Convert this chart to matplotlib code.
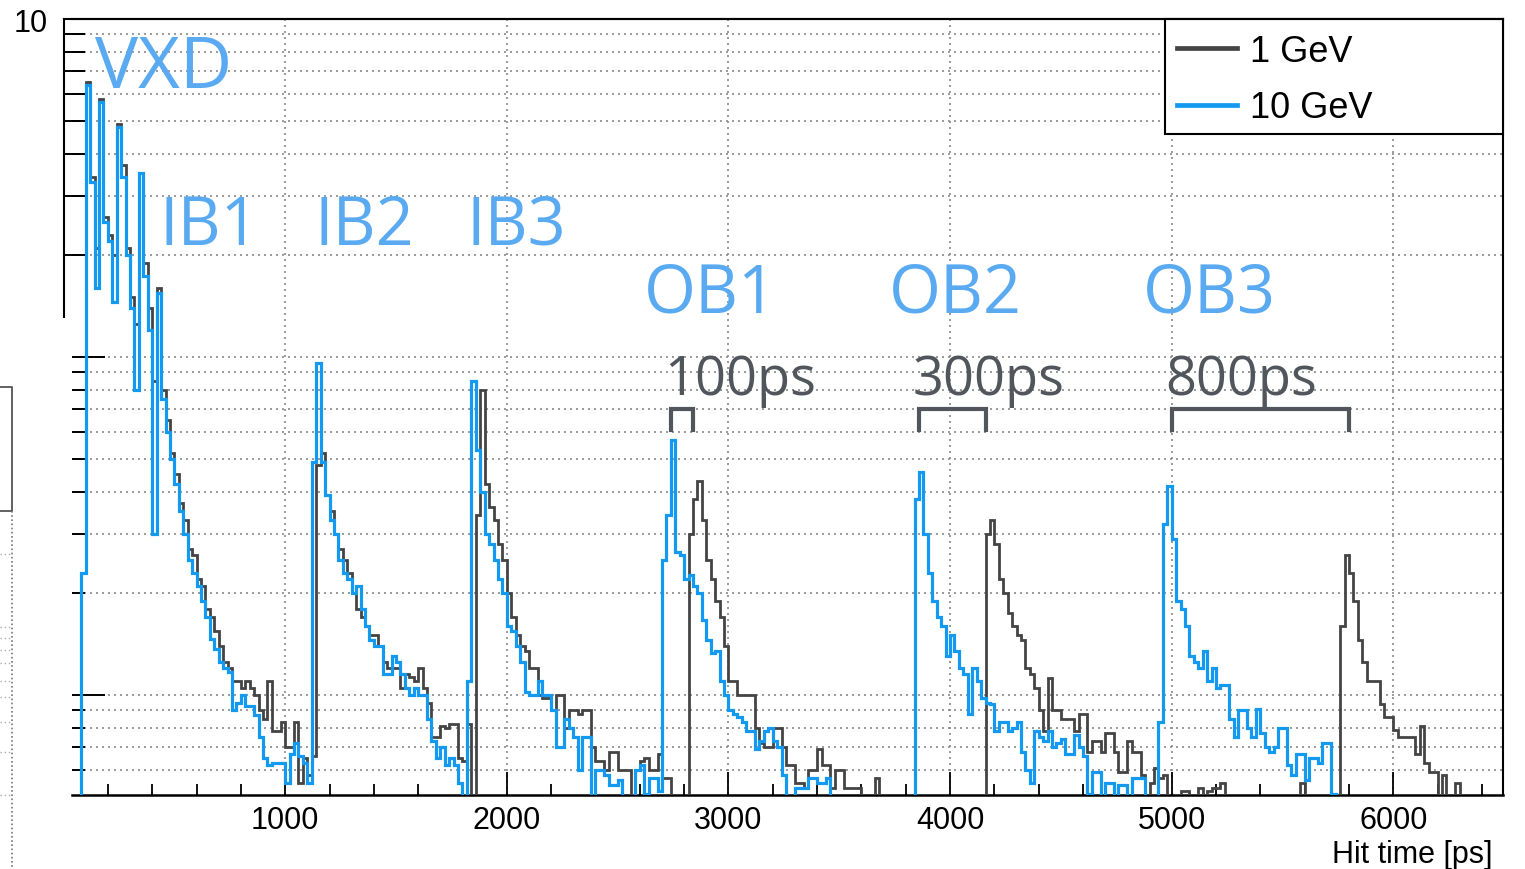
import numpy as np
import matplotlib.pyplot as plt
from matplotlib.patches import Rectangle
from matplotlib.lines import Line2D

plt.rcParams['font.family'] = ['Liberation Sans', 'DejaVu Sans']

# hit time histograms, 20 ps bins starting at 0 ps
bin_width = 20
hits_1gev = [
    0, 0, 0, 0, 0.23, 6.5, 3.4, 2.1, 5.8, 2.6,                     # 0-200
    2.3, 2.0, 4.9, 3.7, 2.1, 1.5, 1.25, 3.5, 1.9, 1.4,             # 200-400
    0.85, 1.6, 0.8, 0.65, 0.52, 0.45, 0.37, 0.33, 0.27, 0.26,      # 400-600
    0.22, 0.21, 0.18, 0.17, 0.155, 0.14, 0.125, 0.12, 0.11, 0.11,  # 600-800
    0.105, 0.11, 0.105, 0.10, 0.09, 0.085, 0.11, 0.078, 0.078, 0.083,
    0.07, 0.07, 0.083, 0.055, 0.065, 0.058, 0.066, 0.48, 0.52, 0.39,
    0.35, 0.30, 0.27, 0.25, 0.23, 0.20, 0.18, 0.17, 0.16, 0.15,
    0.15, 0.14, 0.125, 0.12, 0.12, 0.12, 0.105, 0.115, 0.113, 0.11,
    0.12, 0.105, 0.095, 0.075, 0.075, 0.081, 0.08, 0.082, 0.082, 0.065,
    0.064, 0.082, 0, 0.34, 0.80, 0.42, 0.36, 0.33, 0.28, 0.25,     # 1800-2000
    0.20, 0.17, 0.15, 0.14, 0.135, 0.12, 0.12, 0.10, 0.098, 0.098,
    0.09, 0.10, 0.10, 0.08, 0.09, 0.09, 0.088, 0.09, 0.09, 0.07,
    0.064, 0.064, 0.06, 0.068, 0.068, 0.06, 0.06, 0.06, 0, 0.06,
    0.064, 0.065, 0.06, 0.06, 0.067, 0.057, 0.057, 0, 0, 0,
    0, 0.30, 0.38, 0.43, 0.33, 0.25, 0.22, 0.19, 0.17, 0.14,       # 2800-3000
    0.11, 0.11, 0.10, 0.10, 0.10, 0.10, 0.08, 0.072, 0.07, 0.07,
    0.08, 0.08, 0.07, 0.062, 0.062, 0.055, 0.055, 0.053, 0.06, 0.06,
    0.069, 0.062, 0.062, 0.053, 0.06, 0.06, 0.053, 0.053, 0.053, 0.053,
    0, 0, 0, 0.057, 0, 0, 0, 0, 0, 0,
    0, 0, 0, 0, 0, 0, 0, 0, 0, 0,                                  # 3800-4000
    0, 0, 0, 0, 0, 0, 0, 0, 0.30, 0.33,
    0.28, 0.22, 0.20, 0.175, 0.16, 0.15, 0.145, 0.12, 0.115, 0.105,
    0.09, 0.078, 0.112, 0.09, 0.09, 0.085, 0.085, 0.085, 0.078, 0.088,
    0.088, 0.068, 0.073, 0.073, 0.068, 0.077, 0.077, 0.068, 0.059, 0.059,
    0.073, 0.068, 0.068, 0.058, 0, 0.055, 0.061, 0.057, 0.058, 0,  # 4800-5000
    0, 0, 0.052, 0.052, 0, 0, 0.053, 0, 0.052, 0.053,
    0.053, 0.055, 0, 0, 0, 0, 0, 0, 0, 0,
    0, 0, 0, 0, 0, 0, 0, 0, 0, 0.055,
    0, 0, 0, 0, 0, 0, 0, 0, 0.16, 0.26,
    0.23, 0.19, 0.145, 0.125, 0.11, 0.11, 0.11, 0.094, 0.086, 0.086,  # 5800-6000
    0.079, 0.075, 0.075, 0.075, 0.075, 0.067, 0.081, 0.063, 0.059, 0.059,
    0, 0.058, 0, 0, 0.055, 0, 0, 0, 0, 0,
    0, 0, 0, 0, 0,
]
hits_10gev = [
    0, 0, 0, 0, 0.23, 6.4, 3.3, 1.6, 5.7, 2.5,                     # 0-200
    2.2, 1.45, 4.8, 3.4, 2.0, 1.4, 0.8, 3.5, 1.74, 1.2,
    0.30, 1.55, 0.75, 0.6, 0.5, 0.42, 0.35, 0.30, 0.25, 0.23,
    0.21, 0.19, 0.17, 0.146, 0.137, 0.125, 0.12, 0.117, 0.09, 0.095,
    0.10, 0.093, 0.093, 0.087, 0.075, 0.065, 0.062, 0.063, 0.063, 0.063,
    0.055, 0.067, 0.072, 0.066, 0.063, 0.055, 0.49, 0.96, 0.49, 0.39,  # 1000-1200
    0.33, 0.30, 0.25, 0.23, 0.22, 0.20, 0.21, 0.18, 0.16, 0.145,
    0.14, 0.14, 0.115, 0.115, 0.13, 0.125, 0.115, 0.105, 0.10, 0.105,
    0.10, 0.10, 0.085, 0.073, 0.065, 0.07, 0.062, 0.065, 0.062, 0.055,
    0, 0.11, 0.85, 0.53, 0.40, 0.30, 0.28, 0.25, 0.22, 0.20,       # 1800-2000
    0.16, 0.155, 0.14, 0.125, 0.102, 0.10, 0.10, 0.11, 0.10, 0.10,
    0.09, 0.07, 0.07, 0.085, 0.08, 0.075, 0.06, 0.075, 0.075, 0,
    0.06, 0.06, 0.058, 0.054, 0.054, 0.056, 0, 0, 0, 0.06,
    0.062, 0.051, 0.057, 0.057, 0.052, 0.25, 0.34, 0.57, 0.264, 0.26,  # 2600-2800
    0.22, 0.227, 0.21, 0.20, 0.167, 0.145, 0.133, 0.135, 0.11, 0.10,
    0.09, 0.088, 0.086, 0.083, 0.078, 0.078, 0.069, 0.073, 0.078, 0.08,
    0.073, 0.07, 0.058, 0, 0, 0.053, 0.053, 0.053, 0.057, 0.057,
    0.055, 0.055, 0.057, 0, 0, 0, 0, 0, 0, 0,
    0, 0, 0, 0, 0, 0, 0, 0, 0, 0,
    0, 0, 0.38, 0.456, 0.3, 0.23, 0.19, 0.17, 0.16, 0.13,          # 3800-4000
    0.15, 0.135, 0.12, 0.115, 0.088, 0.12, 0.11, 0.098, 0.095, 0.094,
    0.078, 0.083, 0.083, 0.078, 0.08, 0.083, 0.068, 0.06, 0.055, 0.078,
    0.075, 0.073, 0.078, 0.07, 0.072, 0.074, 0.067, 0.067, 0.076, 0.07,
    0.066, 0.051, 0.059, 0.059, 0, 0.055, 0.055, 0, 0.054, 0.054,
    0, 0.057, 0.057, 0.057, 0, 0, 0, 0.083, 0.32, 0.416,           # 4800-5000
    0.29, 0.19, 0.18, 0.16, 0.13, 0.125, 0.12, 0.135, 0.11, 0.12,
    0.105, 0.107, 0.107, 0.085, 0.075, 0.09, 0.09, 0.08, 0.075, 0.091,
    0.077, 0.07, 0.068, 0.07, 0.08, 0.08, 0.062, 0.058, 0.067, 0.067,
    0.056, 0.065, 0.065, 0.063, 0.072, 0.072, 0.051, 0, 0, 0,
    0, 0, 0, 0, 0, 0, 0, 0, 0, 0,
    0, 0, 0, 0, 0, 0, 0, 0, 0, 0,
    0, 0, 0, 0, 0, 0, 0, 0, 0, 0,
    0, 0, 0, 0, 0,
]

layer_names = ['VXD', 'IB1', 'IB2', 'IB3', 'OB1', 'OB2', 'OB3']
layer_label_pos = [(140, 6.29), (435, 2.16), (1130, 2.16), (1820, 2.16),
                   (2620, 1.36), (3722, 1.36), (4872, 1.36)]
layer_label_size = [52, 48, 48, 48, 48, 48, 48]

delay_ps = [100, 300, 800]
delay_labels = ['%dps' % d for d in delay_ps]
delay_start = [2740, 3860, 5000]   # 10 GeV peak of each outer layer

c_1gev = '#444444'
c_10gev = '#1399f0'
c_layer = '#5aaaf2'
c_delay = '#51565c'

W, H = 1525, 870
fig = plt.figure(figsize=(W / 100, H / 100), dpi=100)


def px_box(l, t, r, b):
    return [l / W, 1 - b / H, (r - l) / W, (b - t) / H]


def px_pt(x, y):
    return x / W, 1 - y / H


ax = fig.add_axes(px_box(72, 20, 1503, 796))
ax_top = fig.add_axes(px_box(64, 20, 1503, 318))

h1 = np.array(hits_1gev, dtype=float)
h10 = np.array(hits_10gev, dtype=float)
edges1 = bin_width * np.arange(len(h1) + 1)
edges10 = bin_width * np.arange(len(h10) + 1)

# empty bins drop below the axis
ax.stairs(np.where(h1 > 0, h1, 1e-3), edges1, baseline=None,
          color=c_1gev, lw=2.0, zorder=3)
ax.stairs(np.where(h10 > 0, h10, 1e-3), edges10, baseline=None,
          color=c_10gev, lw=2.3, zorder=3)

ax.set_yscale('log')
ax.set_ylim(0.0506, 10)
ax.set_xlim(38, 6495)

ax.set_xticks(np.arange(1000, 6001, 1000))
ax.set_xticks(np.arange(200, 6500, 200), minor=True)
ax.set_yticks([0.1, 1])
ax.set_yticks([0.06, 0.07, 0.08, 0.09] + [k / 10 for k in range(2, 10)] +
              list(range(2, 10)), minor=True)
ax.yaxis.set_major_formatter(plt.NullFormatter())
ax.yaxis.set_minor_formatter(plt.NullFormatter())
ax.tick_params(axis='x', which='major', direction='in', length=16.5,
               width=1.3, labelsize=22, pad=7)
ax.tick_params(axis='x', which='minor', direction='in', length=8, width=1.3)
ax.tick_params(axis='y', which='major', direction='in', length=23.8, width=1.4)
ax.tick_params(axis='y', which='minor', direction='in', length=9.4, width=1.4)

grid_kw = dict(color='#8a8a8a', linestyle=(0, (1.2, 2.4)), lw=1.2)
ax.grid(True, which='both', axis='y', **grid_kw)
ax.grid(True, which='major', axis='x', **grid_kw)
ax.set_axisbelow(True)

ax.spines['left'].set_visible(False)
for s in ['top', 'right', 'bottom']:
    ax.spines[s].set_linewidth(1.5)
ax.spines['bottom'].set_linewidth(1.8)

ax.text(0.993, -0.086, 'Hit time [ps]', transform=ax.transAxes,
        ha='right', va='baseline', fontsize=22)

# upper part of the y axis with its own offset frame
ax_top.set_yscale('log')
ax_top.set_ylim(10 ** (1 - 298 / 338), 10)
ax_top.patch.set_visible(False)
ax_top.spines['right'].set_visible(False)
ax_top.spines['bottom'].set_visible(False)
ax_top.spines['left'].set_linewidth(1.5)
ax_top.spines['top'].set_linewidth(1.5)
ax_top.set_xticks([])
ax_top.set_yticks([10])
ax_top.set_yticklabels(['10'])
ax_top.set_yticks(list(range(2, 10)), minor=True)
ax_top.yaxis.set_minor_formatter(plt.NullFormatter())
ax_top.tick_params(axis='y', which='both', direction='in', length=15,
                   width=1.4, labelsize=22, pad=12)

# legend box
ax.add_patch(Rectangle((1093 / 1431, 661 / 776), 338 / 1431, 115 / 776,
                       transform=ax.transAxes, fc='white', ec='black',
                       lw=1.5, zorder=4, clip_on=False))
handles = [Line2D([], [], color=c_1gev, lw=3.4),
           Line2D([], [], color=c_10gev, lw=3.4)]
leg = ax.legend(handles, ['1 GeV', '10 GeV'], loc='upper left',
                bbox_to_anchor=(1105 / 1431, 0.981), frameon=False,
                fontsize=26, handlelength=1.67, handletextpad=0.36,
                labelspacing=0.6, borderpad=0, borderaxespad=0)
leg.set_zorder(6)

for name, (t, y), fs in zip(layer_names, layer_label_pos, layer_label_size):
    ax.text(t, y, name, color=c_layer, fontsize=fs, family='Open Sans',
            ha='left', va='baseline', zorder=5)

for lab, d, t0 in zip(delay_labels, delay_ps, delay_start):
    ax.text(t0 - 30, 0.777, lab, color=c_delay, fontsize=39,
            family='Open Sans', ha='left', va='baseline', zorder=5)
    ax.plot([t0, t0, t0 + d, t0 + d], [0.607, 0.70, 0.70, 0.607],
            color=c_delay, lw=3, solid_joinstyle='miter', zorder=5)

# fragment of a neighbouring frame at the left edge
frag = dict(color='#555555', lw=1.3)
fig.add_artist(Line2D(*zip(px_pt(-5, 388), px_pt(12, 388), px_pt(12, 512),
                           px_pt(-5, 512)), **frag))
fig.add_artist(Line2D(*zip(px_pt(12, 512), px_pt(12, 870)),
                      color='#777777', lw=1.2, linestyle=(0, (1, 1.5))))
for yy in [555, 628, 639, 651, 664, 682, 698, 723, 753, 796]:
    fig.add_artist(Line2D(*zip(px_pt(0, yy), px_pt(11, yy)),
                          color='#aaaaaa', lw=1, linestyle=(0, (1, 2))))

fig.savefig('out.png', dpi=100)
